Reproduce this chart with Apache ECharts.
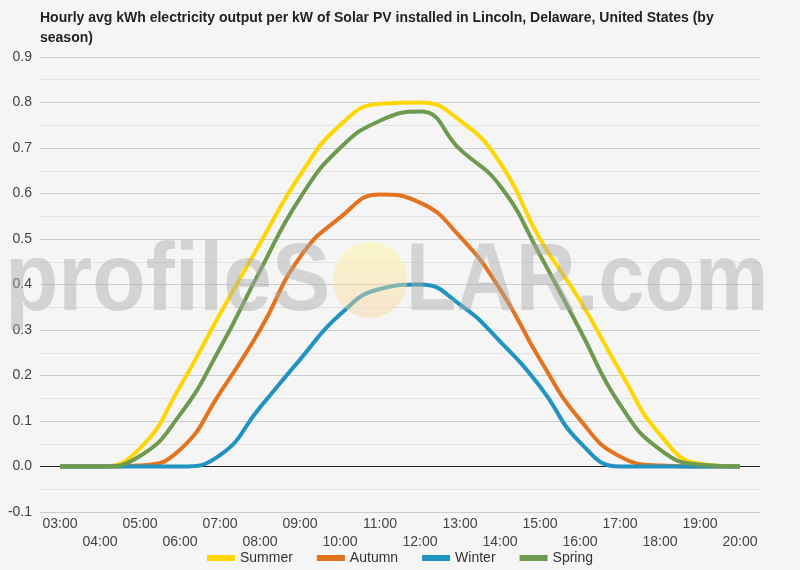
<!DOCTYPE html>
<html>
<head>
<meta charset="utf-8">
<script src="https://cdn.jsdelivr.net/npm/echarts@6/dist/echarts.min.js"></script>
<style>
  html, body { margin: 0; padding: 0; background: #f5f5f5; }
  #main { width: 800px; height: 570px; }
</style>
</head>
<body>
<div id="main"></div>
<script>
// hours on the x axis
const hours = ['03:00', '04:00', '05:00', '06:00', '07:00', '08:00', '09:00', '10:00', '11:00',
  '12:00', '13:00', '14:00', '15:00', '16:00', '17:00', '18:00', '19:00', '20:00'];

// kWh per kW
const summer = [0, 0, 0.04, 0.176, 0.335, 0.49, 0.64, 0.75, 0.797, 0.80, 0.76, 0.668, 0.50, 0.365, 0.21, 0.07, 0.006, 0];
const autumn = [0, 0, 0.002, 0.037, 0.162, 0.30, 0.46, 0.547, 0.598, 0.58, 0.505, 0.39, 0.235, 0.103, 0.022, 0.002, 0, 0];
const winter = [0, 0, 0, 0, 0.025, 0.13, 0.235, 0.334, 0.39, 0.40, 0.356, 0.275, 0.176, 0.053, 0, 0, 0, 0];
const spring = [0, 0, 0.023, 0.114, 0.26, 0.43, 0.59, 0.70, 0.76, 0.78, 0.697, 0.617, 0.465, 0.30, 0.136, 0.037, 0.004, 0];

const yMin = -0.1;
const yMax = 0.9;
const yStep = 0.1;

const font = 'Liberation Sans, Arial, sans-serif';

var myChart = echarts.init(document.getElementById('main'));

function line(name, color, data) {
  return {
    name: name,
    type: 'line',
    data: data,
    smooth: true,
    showSymbol: false,
    symbol: 'none',
    color: color,
    lineStyle: { width: 4, color: color },
    emphasis: { disabled: true }
  };
}

const series = [
  line('Summer', '#FFD700', summer),
  line('Autumn', '#E3731E', autumn),
  line('Winter', '#2193C2', winter),
  line('Spring', '#6E9A4F', spring)
];

// zero baseline
series[0].markLine = {
  silent: true,
  symbol: 'none',
  label: { show: false },
  lineStyle: { color: '#222', width: 1, type: 'solid' },
  data: [{ yAxis: 0 }],
  z: 1
};

const wmColor = 'rgba(170,170,170,0.45)';

const option = {
  backgroundColor: '#f5f5f5',
  animation: false,
  title: {
    text: 'Hourly avg kWh electricity output per kW of Solar PV installed in Lincoln, Delaware, United States (by\nseason)',
    left: 40,
    top: 8,
    padding: 0,
    textStyle: {
      fontFamily: font,
      fontSize: 14,
      fontWeight: 'bold',
      color: '#222',
      lineHeight: 20
    }
  },
  grid: {
    left: 40,
    right: 40,
    top: 57,
    bottom: 58
  },
  legend: {
    bottom: 0,
    left: 'center',
    icon: 'rect',
    itemWidth: 28,
    itemHeight: 6,
    itemGap: 24,
    textStyle: { fontFamily: font, fontSize: 14, color: '#333' },
    data: ['Summer', 'Autumn', 'Winter', 'Spring']
  },
  xAxis: {
    type: 'category',
    data: hours,
    boundaryGap: true,
    axisLine: { show: false, onZero: false },
    axisTick: { show: false },
    axisLabel: {
      interval: 0,
      fontFamily: font,
      fontSize: 14,
      color: '#444',
      lineHeight: 18,
      margin: 3,
      formatter: function (v, i) {
        return i % 2 === 1 ? '\n' + v : v;
      }
    }
  },
  yAxis: {
    type: 'value',
    min: yMin,
    max: yMax,
    interval: yStep,
    axisLine: { show: false },
    axisTick: { show: false },
    axisLabel: {
      fontFamily: font,
      fontSize: 14,
      color: '#444',
      margin: 8,
      formatter: function (v) { return v.toFixed(1); }
    },
    splitLine: { lineStyle: { color: '#cccccc', width: 1 } },
    minorTick: { show: false, splitNumber: 2 },
    minorSplitLine: { show: true, lineStyle: { color: '#e4e4e4', width: 1 } }
  },
  graphic: [
    {
      type: 'text',
      z: 100,
      silent: true,
      x: 5,
      y: 284,
      scaleX: 0.91,
      style: {
        text: 'profileS',
        font: 'bold 96px ' + font,
        fill: wmColor,
        verticalAlign: 'middle'
      }
    },
    {
      type: 'ellipse',
      z: 99,
      silent: true,
      shape: { cx: 370, cy: 280, rx: 37, ry: 38 },
      style: {
        fill: new echarts.graphic.LinearGradient(0, 0, 0, 1, [
          { offset: 0, color: 'rgba(255,250,160,0.5)' },
          { offset: 1, color: 'rgba(250,205,150,0.4)' }
        ])
      }
    },
    {
      type: 'text',
      z: 100,
      silent: true,
      x: 406,
      y: 284,
      scaleX: 0.86,
      style: {
        text: 'LAR.com',
        font: 'bold 96px ' + font,
        fill: wmColor,
        verticalAlign: 'middle'
      }
    }
  ],
  series: series
};

option && myChart.setOption(option);
</script>
</body>
</html>
